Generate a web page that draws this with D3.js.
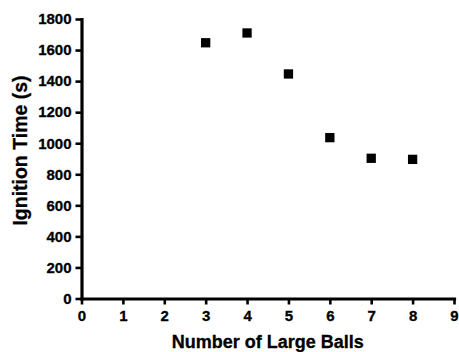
<!DOCTYPE html>
<html>
<head>
<meta charset="utf-8">
<script src="https://cdn.jsdelivr.net/npm/d3@7"></script>
<style>
  html, body { margin: 0; padding: 0; background: #fff; }
  svg { display: block; }
  text { font-family: "Liberation Sans", Arial, sans-serif; font-weight: bold; fill: #000; }
</style>
</head>
<body>
<svg id="chart" width="459" height="352"></svg>
<script>
const ballCounts = [3, 4, 5, 6, 7, 8];
const ignitionTimes = [1647, 1710, 1446, 1036, 903, 896];
const xTicks = [0, 1, 2, 3, 4, 5, 6, 7, 8, 9];
const yTicks = [0, 200, 400, 600, 800, 1000, 1200, 1400, 1600, 1800];
const xTitle = "Number of Large Balls";
const yTitle = "Ignition Time (s)";

const svg = d3.select("#chart");
const x = d3.scaleLinear().domain([0, 9]).range([81.5, 454]);
const y = d3.scaleLinear().domain([0, 1800]).range([298.5, 19]);

const xAxis = svg.append("g")
  .attr("transform", `translate(0,${y(0)})`)
  .call(d3.axisBottom(x).tickValues(xTicks).tickFormat(d3.format("d")).tickSize(6).tickPadding(6).tickSizeOuter(0));
const yAxis = svg.append("g")
  .attr("transform", `translate(${x(0)},0)`)
  .call(d3.axisLeft(y).tickValues(yTicks).tickFormat(d3.format("d")).tickSize(6).tickPadding(4).tickSizeOuter(0));

[xAxis, yAxis].forEach(g => {
  g.attr("font-family", null).attr("font-size", null);
  g.select(".domain").attr("stroke", "#000").attr("stroke-width", 3.2).attr("stroke-linecap", "square");
  g.selectAll(".tick line").attr("stroke", "#000").attr("stroke-width", 2.6);
  g.selectAll(".tick text").attr("fill", "#000")
    .attr("stroke", "#000").attr("stroke-width", 0.3)
    .style("font-family", '"Liberation Sans", Arial, sans-serif')
    .style("font-weight", "bold").style("font-size", "15px");
});

const s = 9.3;
svg.append("g").selectAll("rect")
  .data(ballCounts.map((c, i) => ({c, v: ignitionTimes[i]})))
  .join("rect")
  .attr("x", d => x(d.c) - s / 2)
  .attr("y", d => y(d.v) - s / 2)
  .attr("width", s).attr("height", s)
  .attr("fill", "#000");

svg.append("text")
  .attr("x", (x(0) + x(9)) / 2).attr("y", 348)
  .attr("text-anchor", "middle").style("font-size", "18px")
  .attr("stroke", "#000").attr("stroke-width", 0.3)
  .text(xTitle);

svg.append("text")
  .attr("transform", `translate(27,150.5) rotate(-90)`)
  .attr("text-anchor", "middle").style("font-size", "19.5px")
  .attr("stroke", "#000").attr("stroke-width", 0.3)
  .text(yTitle);
</script>
</body>
</html>
